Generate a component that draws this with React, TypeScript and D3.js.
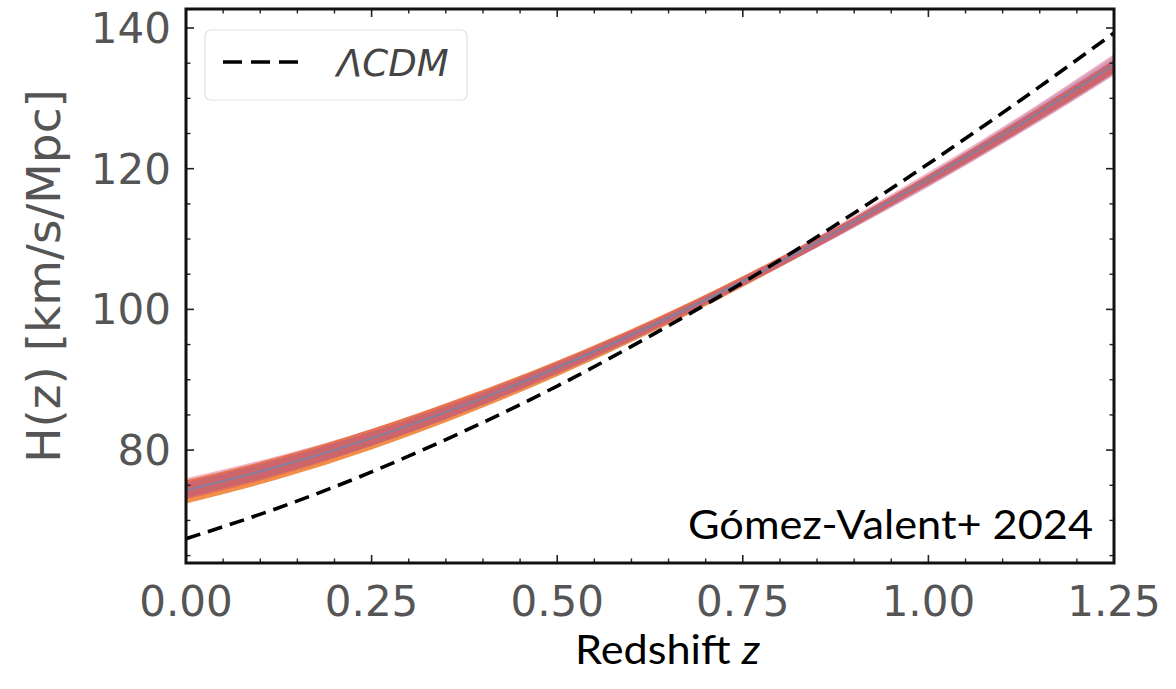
import React from "react";
import * as d3 from "d3";

const zGrid = [0, 0.125, 0.25, 0.375, 0.5, 0.625, 0.75, 0.875, 1.0, 1.125, 1.25];
const lcdmH = [67.4, 71.8, 76.9, 82.7, 89.1, 96.2, 103.8, 112.0, 120.7, 129.8, 139.3];
const bandMid = [74.3, 77.7, 81.7, 86.4, 91.7, 97.6, 104.0, 111.0, 118.5, 126.4, 134.8];
const orangeLo = [72.4, 75.9, 80.1, 85.0, 90.5, 96.6, 103.2, 110.3, 117.7, 125.4, 133.6];
const orangeHi = [75.7, 79.0, 83.0, 87.6, 92.7, 98.4, 104.7, 111.6, 119.1, 127.1, 135.5];
const redLo = [73.0, 76.4, 80.6, 85.4, 90.9, 96.9, 103.4, 110.2, 117.4, 125.1, 133.3];
const redHi = [76.0, 79.2, 83.0, 87.5, 92.6, 98.3, 104.7, 111.8, 119.5, 127.6, 136.3];
const purpleLo = [73.2, 76.6, 80.6, 85.4, 90.8, 96.8, 103.3, 110.2, 117.5, 125.2, 133.4];
const purpleHi = [75.4, 78.7, 82.6, 87.2, 92.4, 98.1, 104.5, 111.6, 119.2, 127.4, 136.0];

const xTicks = [0, 0.25, 0.5, 0.75, 1.0, 1.25];
const xTickLabels = ["0.00", "0.25", "0.50", "0.75", "1.00", "1.25"];
const yTicks = [80, 100, 120, 140];
const yTickLabels = ["80", "100", "120", "140"];
const legendLabel = "ΛCDM";
const yTitle = "H(z) [km/s/Mpc]";
const credit = "Gómez-Valent+ 2024";

const W = 1176, H = 689;
const L = 186, R = 1114, T = 9, B = 563;

export default function App() {
  const x = d3.scaleLinear().domain([0, 1.25]).range([L, R]);
  const y = d3.scaleLinear().domain([63.95, 142.7]).range([B, T]);
  const idx = zGrid.map((_, i) => i);
  const area = (lo: number[], hi: number[]) =>
    d3.area<number>().x(i => x(zGrid[i])).y0(i => y(lo[i])).y1(i => y(hi[i])).curve(d3.curveMonotoneX)(idx) || "";
  const line = (vals: number[]) =>
    d3.line<number>().x(i => x(zGrid[i])).y(i => y(vals[i])).curve(d3.curveMonotoneX)(idx) || "";

  const minorX = d3.range(0, 1.2501, 0.05).filter(v => !xTicks.some(t => Math.abs(t - v) < 1e-6));
  const minorY = d3.range(65, 142, 5).filter(v => !yTicks.includes(v));
  const tickCol = "#222";
  const labCol = "#555";
  const font = "'DejaVu Sans', sans-serif";

  return (
    <svg width={W} height={H} style={{ position: "absolute", left: 0, top: 0, background: "#fff" }}>
      <defs>
        <clipPath id="plot"><rect x={L} y={T} width={R - L} height={B - T} /></clipPath>
      </defs>
      <g clipPath="url(#plot)">
        <path d={area(orangeLo, orangeHi)} fill="#ee8236" opacity={0.9} />
        <path d={area(redLo, redHi)} fill="#d8405e" opacity={0.38} />
        <path d={area(purpleLo, purpleHi)} fill="#8a4fb5" opacity={0.28} />
        <path d={line(bandMid)} fill="none" stroke="#6a88b0" strokeWidth={2} opacity={0.75} />
        <path d={line(lcdmH)} fill="none" stroke="#000" strokeWidth={3.6} strokeDasharray="15,8" />
      </g>
      {xTicks.map(t => (
        <g key={"xt" + t}>
          <line x1={x(t)} x2={x(t)} y1={B} y2={B - 8} stroke={tickCol} strokeWidth={1.6} />
          <line x1={x(t)} x2={x(t)} y1={T} y2={T + 8} stroke={tickCol} strokeWidth={1.6} />
        </g>
      ))}
      {minorX.map(t => (
        <g key={"xm" + t}>
          <line x1={x(t)} x2={x(t)} y1={B} y2={B - 4.5} stroke={tickCol} strokeWidth={1.4} />
          <line x1={x(t)} x2={x(t)} y1={T} y2={T + 4.5} stroke={tickCol} strokeWidth={1.4} />
        </g>
      ))}
      {yTicks.map(t => (
        <g key={"yt" + t}>
          <line x1={L} x2={L + 8} y1={y(t)} y2={y(t)} stroke={tickCol} strokeWidth={1.6} />
          <line x1={R} x2={R - 8} y1={y(t)} y2={y(t)} stroke={tickCol} strokeWidth={1.6} />
        </g>
      ))}
      {minorY.map(t => (
        <g key={"ym" + t}>
          <line x1={L} x2={L + 4.5} y1={y(t)} y2={y(t)} stroke={tickCol} strokeWidth={1.4} />
          <line x1={R} x2={R - 4.5} y1={y(t)} y2={y(t)} stroke={tickCol} strokeWidth={1.4} />
        </g>
      ))}
      <rect x={L} y={T} width={R - L} height={B - T} fill="none" stroke="#111" strokeWidth={3} />
      {xTicks.map((t, i) => (
        <text key={"xl" + t} x={x(t)} y={616} textAnchor="middle" fontFamily={font} fontSize={42} fill={labCol}>{xTickLabels[i]}</text>
      ))}
      {yTicks.map((t, i) => (
        <text key={"yl" + t} x={171} y={y(t) + 15} textAnchor="end" fontFamily={font} fontSize={42} fill={labCol}>{yTickLabels[i]}</text>
      ))}
      <text transform="translate(60,276) rotate(-90)" textAnchor="middle" fontFamily={font} fontSize={47} fill={labCol}>{yTitle}</text>
      <rect x={205} y={30} width={262} height={70} rx={6} fill="#fff" fillOpacity={0.8} stroke="#e2e2e2" strokeWidth={1.2} />
      <line x1={223} x2={301} y1={62} y2={62} stroke="#000" strokeWidth={3.6} strokeDasharray="19,9" />
      <text x={337} y={76} fontFamily={font} fontStyle="italic" fontSize={37} fill="#444">{legendLabel}</text>
      <text x={1093} y={539} textAnchor="end" fontFamily="Lato, sans-serif" fontSize={40} fill="#000" textLength={405} lengthAdjust="spacingAndGlyphs">{credit}</text>
      <text x={575} y={664} fontFamily="Lato, sans-serif" fontSize={41} fill="#000" textLength={185} lengthAdjust="spacingAndGlyphs">Redshift <tspan fontStyle="italic">z</tspan></text>
    </svg>
  );
}
